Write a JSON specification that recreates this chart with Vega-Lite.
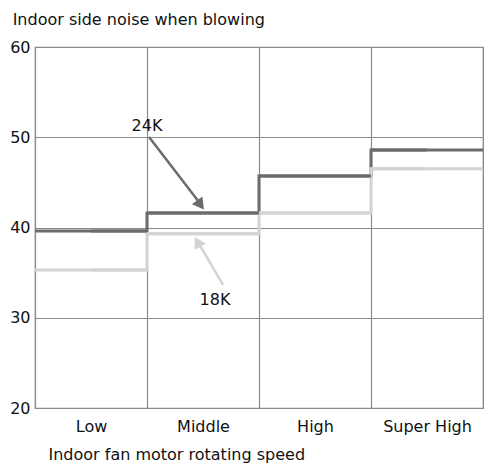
{
  "$schema": "https://vega.github.io/schema/vega-lite/v6.json",
  "width": 448,
  "height": 361,
  "autosize": "none",
  "padding": {"left": 35, "top": 47, "right": 1, "bottom": 58},
  "background": "white",
  "config": {
    "font": "DejaVu Sans",
    "view": {"stroke": "#8a8a8a", "strokeWidth": 1.2},
    "axis": {"labelFont": "DejaVu Sans", "titleFont": "DejaVu Sans", "labelColor": "#111", "titleColor": "#111"}
  },
  "title": {
    "text": "Indoor side noise when blowing",
    "anchor": "start",
    "offset": 11,
    "dx": 3,
    "fontSize": 16,
    "fontWeight": "normal",
    "color": "#111",
    "font": "DejaVu Sans"
  },
  "datasets": {
    "noise": [
      {"speed": "Low", "model": "24K", "dB": 39.6},
      {"speed": "Middle", "model": "24K", "dB": 41.6},
      {"speed": "High", "model": "24K", "dB": 45.7},
      {"speed": "Super High", "model": "24K", "dB": 48.6},
      {"speed": "Low", "model": "18K", "dB": 35.3},
      {"speed": "Middle", "model": "18K", "dB": 39.3},
      {"speed": "High", "model": "18K", "dB": 41.6},
      {"speed": "Super High", "model": "18K", "dB": 46.5}
    ],
    "arrows": [
      {"model": "24K", "x": 1.018, "y": 50.03, "x2": 1.49, "y2": 42.4},
      {"model": "18K", "x": 1.679, "y": 33.63, "x2": 1.45, "y2": 38.5}
    ],
    "heads": [
      {"model": "24K", "x": 1.478, "y": 42.5, "angle": 143},
      {"model": "18K", "x": 1.451, "y": 38.4, "angle": 330}
    ],
    "labels": [
      {"model": "24K", "x": 1.0, "y": 51.25},
      {"model": "18K", "x": 1.607, "y": 31.97}
    ]
  },
  "layer": [
    {
      "data": {"name": "noise"},
      "layer": [
        {
          "mark": {"type": "line", "interpolate": "step", "strokeWidth": 3},
          "encoding": {
            "x": {"field": "speed", "type": "nominal", "sort": ["Low", "Middle", "High", "Super High"],
              "scale": {"paddingInner": 0, "paddingOuter": 0},
              "axis": {"title": "Indoor fan motor rotating speed", "grid": true, "tickBand": "extent", "gridColor": "#8a8a8a", "gridOpacity": 1, "gridWidth": 1.2, "domain": false, "ticks": false, "labelAngle": 0, "labelFontSize": 16, "labelPadding": 10, "titleFontSize": 16, "titleFontWeight": "normal", "titleAnchor": "start", "titleAlign": "left", "titleX": 13, "titleY": 51, "titleBaseline": "alphabetic"}},
            "y": {"field": "dB", "type": "quantitative", "scale": {"domain": [20, 60], "nice": false, "zero": false},
              "axis": {"title": null, "values": [20, 30, 40, 50, 60], "grid": true, "gridColor": "#8a8a8a", "gridOpacity": 1, "gridWidth": 1.2, "domain": false, "ticks": false, "labelFontSize": 16, "labelPadding": 5}},
            "color": {"field": "model", "type": "nominal", "scale": {"domain": ["24K", "18K"], "range": ["#6b6b6b", "#d3d3d3"]}, "legend": null},
            "detail": {"field": "model"}
          }
        },
        {
          "mark": {"type": "tick", "size": 112, "thickness": 3, "orient": "horizontal", "opacity": 1},
          "encoding": {
            "x": {"field": "speed", "type": "nominal", "sort": ["Low", "Middle", "High", "Super High"]},
            "y": {"field": "dB", "type": "quantitative"},
            "color": {"field": "model", "type": "nominal", "legend": null}
          }
        }
      ]
    },
    {
      "layer": [
        {
          "data": {"name": "arrows"},
          "mark": {"type": "rule", "strokeWidth": 2.5},
          "encoding": {
            "x": {"field": "x", "type": "quantitative", "scale": {"domain": [0, 4], "nice": false, "zero": false}, "axis": null},
            "y": {"field": "y", "type": "quantitative"},
            "x2": {"field": "x2"},
            "y2": {"field": "y2"},
            "color": {"field": "model", "type": "nominal", "scale": {"domain": ["24K", "18K"], "range": ["#6b6b6b", "#cfcfcf"]}, "legend": null}
          }
        },
        {
          "data": {"name": "heads"},
          "mark": {"type": "point", "shape": "triangle-up", "filled": true, "size": 170, "opacity": 1},
          "encoding": {
            "x": {"field": "x", "type": "quantitative"},
            "y": {"field": "y", "type": "quantitative"},
            "angle": {"field": "angle", "type": "quantitative", "scale": null},
            "color": {"field": "model", "type": "nominal", "legend": null}
          }
        },
        {
          "data": {"name": "labels"},
          "mark": {"type": "text", "fontSize": 16, "font": "DejaVu Sans", "color": "#111", "baseline": "middle", "align": "center"},
          "encoding": {
            "x": {"field": "x", "type": "quantitative"},
            "y": {"field": "y", "type": "quantitative"},
            "text": {"field": "model"}
          }
        }
      ]
    }
  ],
  "resolve": {"scale": {"x": "independent"}}
}
